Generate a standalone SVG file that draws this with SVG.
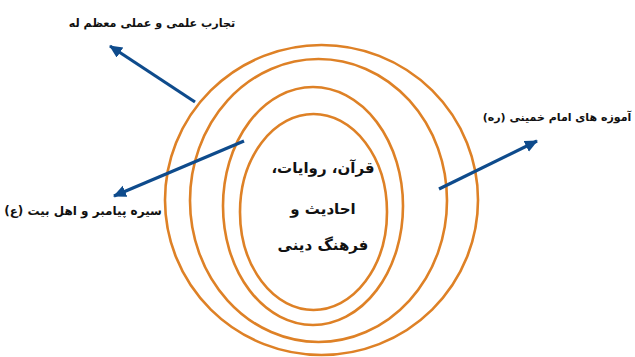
<svg xmlns="http://www.w3.org/2000/svg" width="635" height="357" viewBox="0 0 635 357">
<style>
.ring{fill:none;stroke:#DE8126;stroke-width:2.6}
.arr{stroke:#0E4B8C;stroke-width:3.2;fill:none;marker-end:url(#ah)}
text{font-family:"DejaVu Sans","Noto Sans",sans-serif;font-weight:bold;fill:#111;direction:rtl;text-anchor:middle}
.lbl{font-size:12px}
.ctr{font-size:15px}
</style>
<defs>
<marker id="ah" markerUnits="userSpaceOnUse" markerWidth="16" markerHeight="14" refX="12" refY="6" orient="auto">
<path d="M0,0 L13,6 L0,12 Z" fill="#0E4B8C"/>
</marker>
</defs>
<rect width="635" height="357" fill="#fff"/>
<g id="rings">
<g id="ring1"><ellipse class="ring" cx="321.5" cy="200" rx="156.5" ry="155"/></g>
<g id="ring2"><ellipse class="ring" cx="318.5" cy="200.5" rx="128.5" ry="141.5"/></g>
<g id="ring3"><ellipse class="ring" cx="313" cy="206" rx="90" ry="119"/></g>
<g id="ring4"><ellipse class="ring" cx="313.5" cy="212" rx="73.5" ry="98"/>
<text class="ctr" x="323" y="173">قرآن، روایات،</text>
<text class="ctr" x="323" y="214">احادیث و</text>
<text class="ctr" x="323" y="250">فرهنگ دینی</text>
</g>
</g>
<g id="connectors">
<line class="arr" x1="195" y1="102" x2="110" y2="46"/>
<line class="arr" x1="244" y1="141" x2="114" y2="196"/>
<line class="arr" x1="439" y1="189" x2="537" y2="141"/>
</g>
<g id="label-top"><text class="lbl" style="font-size:11.2px" x="152" y="27">تجارب علمی و عملی معظم له</text></g>
<g id="label-left"><text class="lbl" x="83" y="215">سیره پیامبر و اهل بیت (ع)</text></g>
<g id="label-right"><text class="lbl" style="font-size:11px" x="557" y="121">آموزه های امام خمینی (ره)</text></g>
</svg>
